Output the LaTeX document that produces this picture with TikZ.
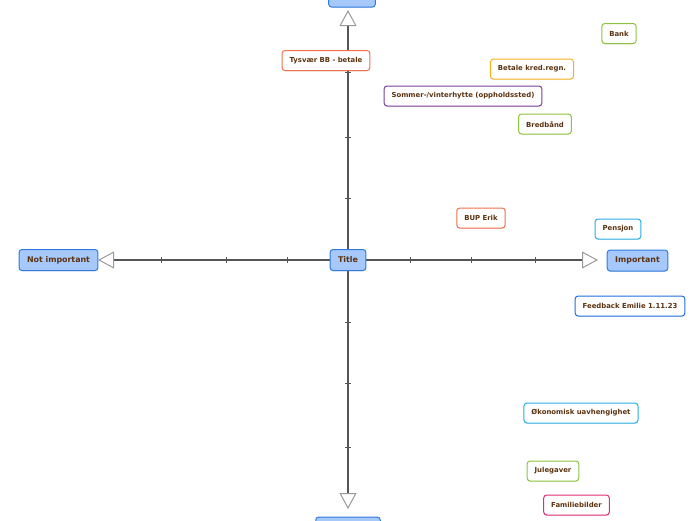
\documentclass[tikz,border=0pt]{standalone}
\usepackage{fontspec}
\setmainfont{DejaVu Sans}
\usetikzlibrary{arrows.meta,shadows}

\definecolor{txtbrown}{HTML}{5C3310}
\definecolor{mainfill}{HTML}{A7C8FB}
\definecolor{mainline}{HTML}{2F7BE0}
\definecolor{axisgray}{HTML}{555555}
\definecolor{tipgray}{HTML}{999999}
\definecolor{cgreen}{HTML}{8DC43F}
\definecolor{cyellow}{HTML}{F5B21B}
\definecolor{corange}{HTML}{F2704E}
\definecolor{cpurple}{HTML}{7D3E96}
\definecolor{ccyan}{HTML}{2AAEE5}
\definecolor{cblue}{HTML}{1F6FE0}
\definecolor{cpink}{HTML}{E42C74}

\tikzset{
  mainbox/.style={draw=mainline, fill=mainfill, line width=1pt, rounded corners=3pt,
    minimum height=21pt, inner xsep=8pt, text=txtbrown, font=\fontsize{7.9}{9}\selectfont\bfseries,
    drop shadow={shadow xshift=0pt, shadow yshift=-1pt, opacity=0.15}},
  itembox/.style={draw=#1, fill=white, line width=1pt, rounded corners=3pt,
    minimum height=20pt, inner xsep=7.5pt, text=txtbrown, font=\fontsize{6.9}{8}\selectfont\bfseries,
    drop shadow={shadow xshift=0pt, shadow yshift=-1pt, opacity=0.15}},
  axisline/.style={draw=axisgray, line width=1.6pt,
    -{Triangle[open, length=16pt, width=17pt, line width=1pt, color=tipgray]}},
  tickmark/.style={draw=axisgray, line width=0.6pt}
}

\begin{document}
\begin{tikzpicture}[x=1pt, y=-1pt]
    % --- Define Parameters ---
    \def\cx{348}      % centre of the matrix
    \def\cy{260}
    \def\tk{3}        % half length of a tick

    \useasboundingbox (0,0) rectangle (696,520);

    % --- Arrow tips of the axes ---
    \coordinate (top) at (\cx, 10);
    \coordinate (bottom) at (\cx, 509);
    \coordinate (left) at (98, \cy);
    \coordinate (right) at (598, \cy);

    % --- Axes ---
    \draw[axisline] (\cx, \cy) -- (top);
    \draw[axisline] (\cx, \cy) -- (bottom);
    \draw[axisline] (\cx, \cy) -- (left);
    \draw[axisline] (\cx, \cy) -- (right);

    % --- Ticks ---
    \foreach \y in {72, 137, 198, 322, 383, 447}
        \draw[tickmark] (\cx-\tk, \y) -- (\cx+\tk, \y);
    \foreach \x in {161, 226, 287, 410, 471, 535}
        \draw[tickmark] (\x, \cy-\tk) -- (\x, \cy+\tk);

    % --- Axis labels ---
    \node[mainbox] (title) at (\cx, \cy) {Title};
    \node[mainbox] (notimp) at (58.5, \cy) {Not important};
    \node[mainbox] (imp) at (637.5, 260.5) {Important};
    \node[mainbox] (urgent) at (352, -3.5) {Urgent};
    \node[mainbox] (noturgent) at (\cx, 527.5) {Not urgent};

    % --- Items ---
    \node[itembox=cgreen] (bank) at (619, 33.5) {Bank};
    \node[itembox=cyellow] (kred) at (532, 69) {Betale kred.regn.};
    \node[itembox=corange] (tysvaer) at (326, 60.5) {Tysvær BB - betale};
    \node[itembox=cpurple] (hytte) at (463, 96) {Sommer-/vinterhytte (oppholdssted)};
    \node[itembox=cgreen] (bredband) at (545, 124) {Bredbånd};
    \node[itembox=corange] (bup) at (481, 218) {BUP Erik};
    \node[itembox=ccyan] (pensjon) at (618, 229) {Pensjon};
    \node[itembox=cblue] (feedback) at (630, 306) {Feedback Emilie 1.11.23};
    \node[itembox=ccyan] (okonomi) at (581, 413) {Økonomisk uavhengighet};
    \node[itembox=cgreen] (julegaver) at (553, 471) {Julegaver};
    \node[itembox=cpink] (bilder) at (576.5, 505) {Familiebilder};

\end{tikzpicture}
\end{document}
